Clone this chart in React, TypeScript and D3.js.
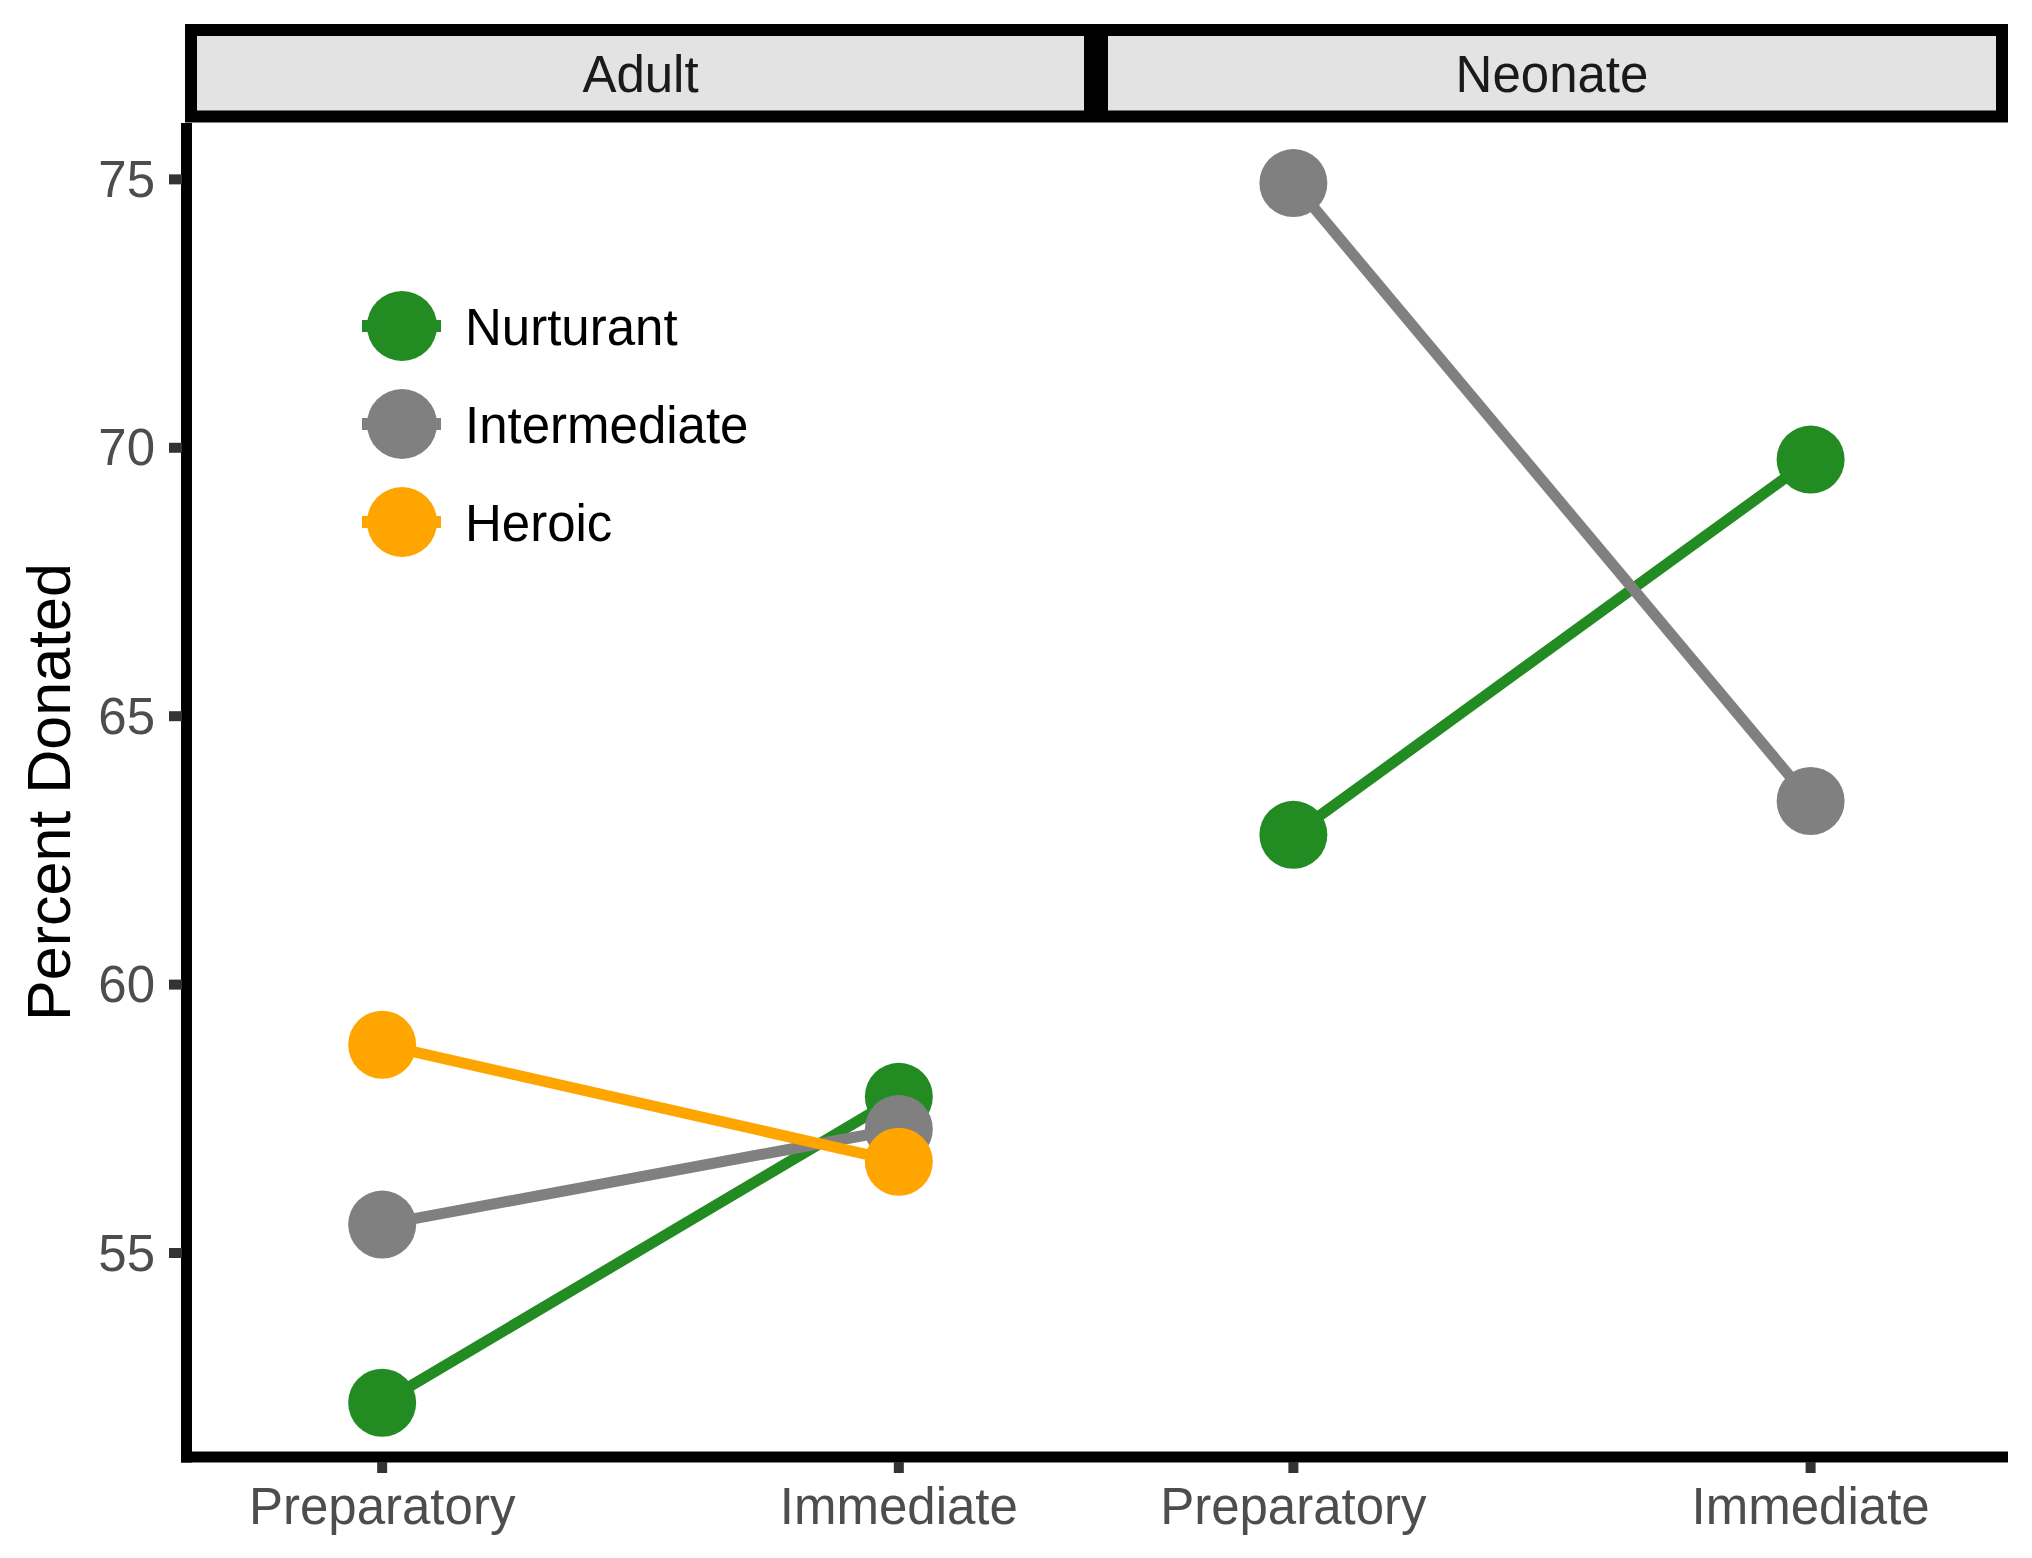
import * as d3 from "d3";

// facet panels and x categories
const panels = ["Adult", "Neonate"];
const phases = ["Preparatory", "Immediate"];
const groups = ["Nurturant", "Intermediate", "Heroic"];
const groupColors = ["#228b22", "#808080", "#ffa500"];

// percent donated, per group, [Preparatory, Immediate]
const adultNurturant = [52.21, 57.91];
const adultIntermediate = [55.53, 57.31];
const adultHeroic = [58.88, 56.7];
const neonateNurturant = [62.79, 69.78];
const neonateIntermediate = [74.93, 63.42];

const yTicks = [55, 60, 65, 70, 75];

const W = 2032;
const H = 1558;
const font = "'Liberation Sans', Arial, Helvetica, sans-serif";

type Series = { group: string; values: number[] };

const panelSeries: Series[][] = [
  [
    { group: "Nurturant", values: adultNurturant },
    { group: "Intermediate", values: adultIntermediate },
    { group: "Heroic", values: adultHeroic },
  ],
  [
    { group: "Nurturant", values: neonateNurturant },
    { group: "Intermediate", values: neonateIntermediate },
  ],
];

export default function App() {
  const top = 123;
  const bottom = 1457;
  const panelX = [
    [191, 1090],
    [1102, 2002],
  ];

  const color = d3.scaleOrdinal<string, string>().domain(groups).range(groupColors);
  const y = d3.scaleLinear().domain([51.2, 76.05]).range([bottom, top]);

  const line = (xs: d3.ScalePoint<string>) =>
    d3
      .line<number>()
      .x((_, i) => xs(phases[i]) ?? 0)
      .y((d) => y(d));

  return (
    <svg
      width={W}
      height={H}
      style={{ position: "absolute", left: 0, top: 0, background: "#fff" }}
      fontFamily={font}
    >
      {panels.map((name, p) => {
        const [x0, x1] = panelX[p];
        const xs = d3.scalePoint<string>().domain(phases).range([x0, x1]).padding(0.37);
        const path = line(xs);
        return (
          <g key={name}>
            {/* strip */}
            <rect x={x0} y={30} width={x1 - x0} height={86.5} fill="#e3e3e3" stroke="#000" strokeWidth={12} />
            <text
              x={(x0 + x1) / 2}
              y={74}
              textAnchor="middle"
              dominantBaseline="central"
              fontSize={51}
              fill="#1a1a1a"
            >
              {name}
            </text>

            {/* x axis */}
            <line x1={p === 0 ? 181 : x0 - 6} x2={x1 + 6} y1={bottom} y2={bottom} stroke="#000" strokeWidth={11} />
            {phases.map((ph) => (
              <g key={ph} transform={`translate(${xs(ph)},0)`}>
                <line y1={bottom + 5} y2={bottom + 16} stroke="#333" strokeWidth={10} />
                <text y={1524} textAnchor="middle" fontSize={51} fill="#4d4d4d">
                  {ph}
                </text>
              </g>
            ))}

            {/* lines then points */}
            {panelSeries[p].map((s) => (
              <path key={s.group} d={path(s.values) ?? ""} fill="none" stroke={color(s.group)} strokeWidth={11} />
            ))}
            {panelSeries[p].map((s) =>
              s.values.map((v, i) => (
                <circle key={s.group + i} cx={xs(phases[i])} cy={y(v)} r={34} fill={color(s.group)} />
              ))
            )}
          </g>
        );
      })}

      {/* y axis */}
      <line x1={186.5} x2={186.5} y1={top} y2={bottom + 5.5} stroke="#000" strokeWidth={11} />
      {yTicks.map((t) => (
        <g key={t} transform={`translate(0,${y(t)})`}>
          <line x1={169} x2={182} stroke="#333" strokeWidth={10} />
          <text x={155} textAnchor="end" dominantBaseline="central" fontSize={51} fill="#4d4d4d">
            {t}
          </text>
        </g>
      ))}
      <text
        transform={`translate(70,792) rotate(-90)`}
        textAnchor="middle"
        fontSize={61}
        fill="#000"
      >
        Percent Donated
      </text>

      {/* legend */}
      {groups.map((g, i) => {
        const cy = 326 + i * 98;
        return (
          <g key={g}>
            <line x1={362} x2={441} y1={cy} y2={cy} stroke={color(g)} strokeWidth={12} />
            <circle cx={402} cy={cy} r={35} fill={color(g)} />
            <text x={465} y={cy + 1} dominantBaseline="central" fontSize={51} fill="#000">
              {g}
            </text>
          </g>
        );
      })}
    </svg>
  );
}
